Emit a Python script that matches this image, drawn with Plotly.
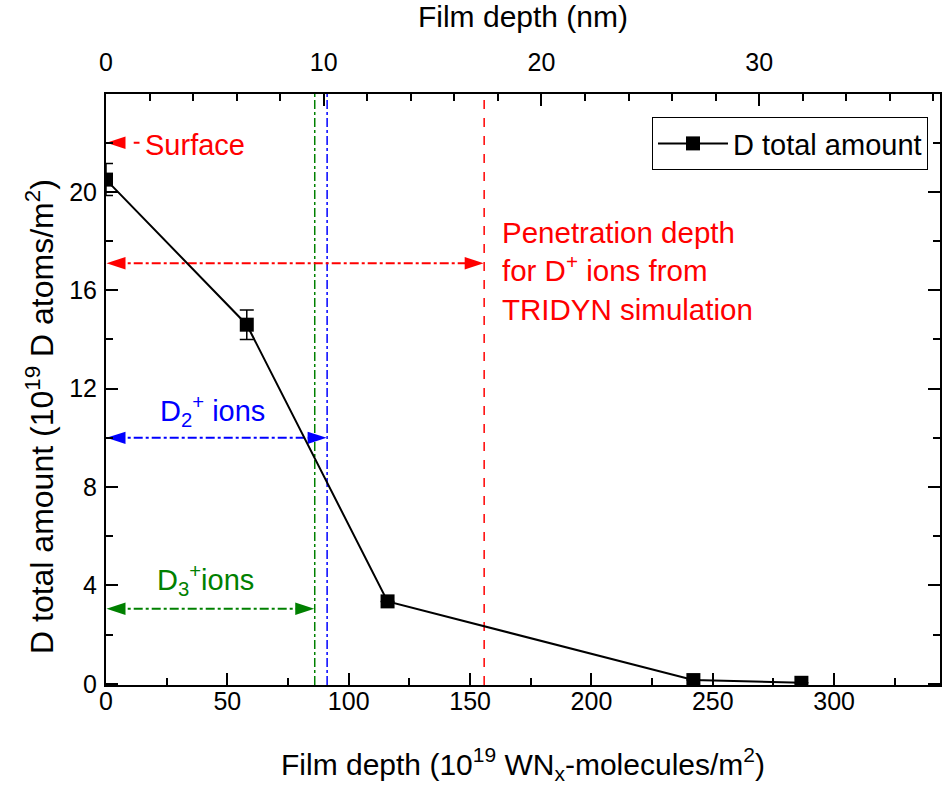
import plotly.graph_objects as go

# ---- data ----
depth_molec = [0, 58, 116, 242, 286.5]          # 10^19 WNx-molecules/m^2
d_total = [20.5, 14.6, 3.35, 0.15, 0.04]         # 10^19 D atoms/m^2
d_err = [0.65, 0.6, 0, 0, 0]

units_per_nm = 8.97
x_range = [0, 343.6]
y_range = [-0.05, 23.98]

# penetration depths (bottom-axis units)
pen_d3 = 86.0
pen_d2 = 91.1
pen_d1 = 155.8

surface_y = 22.0
pen_d1_y = 17.1
pen_d2_y = 10.0
pen_d3_y = 3.05

FONT = "Liberation Sans, Arial, sans-serif"
RED = "#ff0000"
BLUE = "#0000ff"
GREEN = "#008000"

fig = go.Figure()

# vertical penetration lines
for xv, col, dash in [(pen_d3, GREEN, "dashdot"), (pen_d2, BLUE, "dashdot"), (pen_d1, RED, "dash")]:
    fig.add_trace(go.Scatter(x=[xv, xv], y=y_range, mode="lines",
                             line=dict(color=col, width=1.5, dash=dash),
                             showlegend=False, hoverinfo="skip"))

# horizontal arrows (lines + arrow heads)
arrows = [
    (0, 13.8, surface_y, RED, "dash", True, False),
    (0, pen_d1, pen_d1_y, RED, "dashdot", True, True),
    (0, pen_d2, pen_d2_y, BLUE, "dashdot", True, True),
    (0, pen_d3, pen_d3_y, GREEN, "dashdot", True, True),
]
for x0, x1, yv, col, dash, left, right in arrows:
    fig.add_trace(go.Scatter(x=[x0 + 4, x1 - (4 if right else 0)], y=[yv, yv], mode="lines",
                             line=dict(color=col, width=2, dash=dash),
                             showlegend=False, hoverinfo="skip"))
    hx, ang = [], []
    if left:
        hx.append(x0 + 0.2); ang.append(-90)
    if right:
        hx.append(x1 - 0.2); ang.append(90)
    fig.add_trace(go.Scatter(x=hx, y=[yv] * len(hx), mode="markers",
                             marker=dict(symbol="arrow", angle=ang, size=20, color=col,
                                         line=dict(width=0)),
                             showlegend=False, hoverinfo="skip"))

# main data
fig.add_trace(go.Scatter(x=depth_molec, y=d_total, mode="lines+markers",
                         name="D total amount",
                         line=dict(color="black", width=2),
                         marker=dict(symbol="square", size=14, color="black"),
                         error_y=dict(type="data", array=d_err, color="black", thickness=1.5, width=7)))

# invisible trace for top axis
fig.add_trace(go.Scatter(x=[0], y=[0], xaxis="x2", mode="markers",
                         marker=dict(opacity=0), showlegend=False, hoverinfo="skip"))

tickfont = dict(family=FONT, size=25, color="black")
titlefont = dict(family=FONT, size=30, color="black")

fig.update_layout(
    width=943, height=787,
    margin=dict(l=106, r=3, t=94, b=102),
    paper_bgcolor="white", plot_bgcolor="white",
    font=dict(family=FONT, color="black"),
    xaxis=dict(range=x_range, dtick=50, tick0=0, ticks="inside", ticklen=12, tickwidth=2,
               tickcolor="black", showline=True, linewidth=2, linecolor="black",
               showgrid=False, zeroline=False, mirror=False, tickfont=tickfont,
               automargin=False, ticklabelstandoff=-7,
               minor=dict(dtick=25, ticks="inside", ticklen=7, tickwidth=2, tickcolor="black"),
               title=dict(text="Film depth (10<sup>19</sup> WN<sub>x</sub>-molecules/m<sup>2</sup>)",
                          font=titlefont, standoff=40)),
    xaxis2=dict(range=[x_range[0] / units_per_nm, x_range[1] / units_per_nm], overlaying="x",
                side="top", dtick=10, tick0=0, ticks="inside", ticklen=12, tickwidth=2,
                tickcolor="black", showline=True, linewidth=2, linecolor="black",
                showgrid=False, zeroline=False, tickfont=tickfont,
                automargin=False, ticklabelstandoff=11,
                minor=dict(dtick=2, ticks="inside", ticklen=7, tickwidth=2, tickcolor="black"),
                title=dict(text="Film depth (nm)", font=titlefont, standoff=17)),
    yaxis=dict(range=y_range, dtick=4, tick0=0, ticks="inside", ticklen=12, tickwidth=2,
               tickcolor="black", showline=True, linewidth=2, linecolor="black",
               showgrid=False, zeroline=False, mirror="ticks", tickfont=tickfont,
               automargin=False, ticklabelstandoff=2,
               minor=dict(dtick=2, ticks="inside", ticklen=7, tickwidth=2, tickcolor="black")),
    legend=dict(x=0.9856, y=0.961, xanchor="right", yanchor="top",
                bordercolor="black", borderwidth=1, bgcolor="white",
                font=dict(family=FONT, size=29, color="black"), itemwidth=70,
                tracegroupgap=0),
    showlegend=True,
)

# y-axis title (as rotated annotation to allow offset along the axis)
fig.add_annotation(x=-0.0791, y=0.4535, xref="paper", yref="paper",
                   text="D total amount (10<sup>19</sup> D atoms/m<sup>2</sup>)",
                   textangle=-90, showarrow=False, xanchor="center", yanchor="middle",
                   font=dict(family=FONT, size=32, color="black"))

afont = lambda c: dict(family=FONT, size=29, color=c)
fig.add_annotation(x=15.1, y=21.9, xref="x", yref="y", text="Surface", showarrow=False,
                   xanchor="left", yanchor="middle", font=afont(RED))
fig.add_annotation(x=162.5, y=16.8, xref="x", yref="y",
                   text="Penetration depth<br>for D<sup>+</sup> ions from<br>TRIDYN simulation",
                   showarrow=False, xanchor="left", yanchor="middle", align="left",
                   font=dict(family=FONT, size=29.5, color=RED))
fig.add_annotation(x=43.8, y=11.1, xref="x", yref="y", text="D<sub>2</sub><sup>+</sup> ions",
                   showarrow=False, xanchor="center", yanchor="middle", font=afont(BLUE))
fig.add_annotation(x=41.0, y=4.2, xref="x", yref="y", text="D<sub>3</sub><sup>+</sup>ions",
                   showarrow=False, xanchor="center", yanchor="middle", font=afont(GREEN))

fig.write_html("out.html", post_script="document.body.style.margin='0';",
               config={"displayModeBar": False})
